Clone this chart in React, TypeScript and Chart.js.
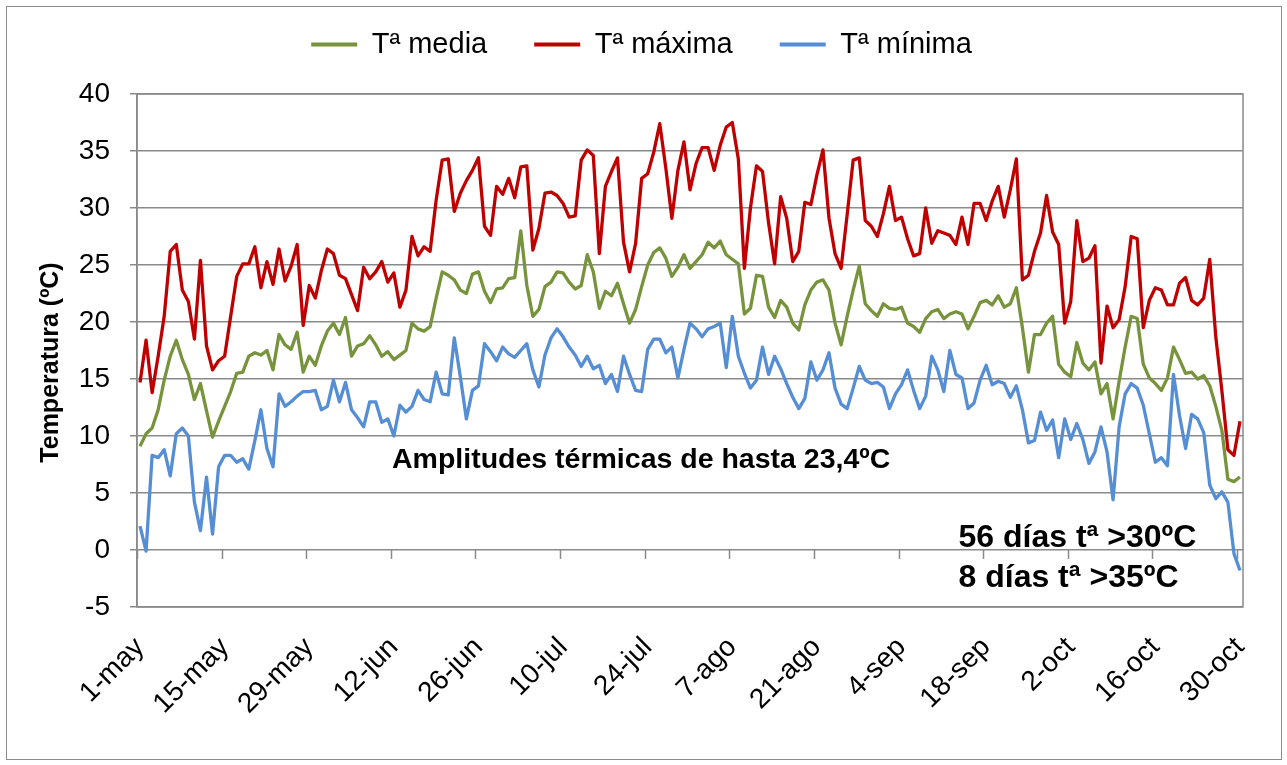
import { useEffect, useRef } from 'react';
import { Chart, registerables } from 'chart.js';

Chart.register(...registerables);

// ---- categories (daily, 1 May - 30 Oct) ----
const MONTHS = ['may', 'jun', 'jul', 'ago', 'sep', 'oct'];
const MONTH_DAYS = [31, 30, 31, 31, 30, 30];
const DATES: string[] = [];
MONTHS.forEach((m, k) => {
  for (let d = 1; d <= MONTH_DAYS[k]; d++) DATES.push(`${d}-${m}`);
});
const TICK_EVERY = 14;

// ---- series (ºC) ----
const T_MEDIA = [
  9.1, 10.2, 10.7, 12.3, 14.9, 17.0, 18.4, 16.7, 15.4, 13.2,
  14.6, 12.2, 9.9, 11.3, 12.6, 13.9, 15.5, 15.6, 17.0, 17.3,
  17.1, 17.5, 15.8, 18.9, 18.0, 17.6, 19.1, 15.6, 17.0, 16.2,
  17.9, 19.2, 19.9, 18.9, 20.4, 17.0, 17.9, 18.1, 18.8, 18.0,
  17.0, 17.4, 16.7, 17.1, 17.5, 19.9, 19.4, 19.2, 19.6, 22.1,
  24.4, 24.1, 23.7, 22.8, 22.5, 24.2, 24.4, 22.7, 21.7, 22.9,
  23.0, 23.8, 23.9, 28.0, 23.2, 20.5, 21.1, 23.1, 23.5, 24.4,
  24.3, 23.5, 22.9, 23.2, 25.9, 24.4, 21.2, 22.7, 22.3, 23.4,
  21.6, 19.9, 21.1, 23.1, 25.0, 26.1, 26.5, 25.6, 24.0, 24.8,
  25.9, 24.7, 25.3, 25.9, 27.0, 26.5, 27.1, 25.9, 25.5, 25.1,
  20.7, 21.2, 24.1, 24.0, 21.3, 20.4, 21.9, 21.3, 19.9, 19.3,
  21.5, 22.8, 23.5, 23.7, 22.8, 19.9, 18.0, 20.5, 22.8, 24.9,
  21.6, 21.0, 20.5, 21.6, 21.2, 21.1, 21.3, 19.9, 19.6, 19.1,
  20.3, 20.9, 21.1, 20.3, 20.7, 20.9, 20.7, 19.4, 20.5, 21.7,
  21.9, 21.5, 22.3, 21.3, 21.6, 23.0, 19.5, 15.6, 18.9, 18.9,
  19.9, 20.5, 16.3, 15.6, 15.2, 18.2, 16.4, 15.8, 16.5, 13.7,
  14.6, 11.5, 14.8, 17.8, 20.5, 20.3, 16.3, 15.1, 14.6, 14.0,
  15.1, 17.8, 16.7, 15.5, 15.6, 15.0, 15.3, 14.4, 12.6, 10.5,
  6.2, 6.0, 6.4,
];

const T_MAX = [
  14.7, 18.4, 13.8, 17.0, 20.5, 26.2, 26.8, 22.8, 21.8, 18.5,
  25.4, 17.9, 15.8, 16.6, 17.0, 20.5, 24.0, 25.1, 25.1, 26.6,
  23.0, 25.3, 23.3, 26.4, 23.6, 24.9, 26.8, 19.7, 23.2, 22.1,
  24.5, 26.4, 26.0, 24.1, 23.8, 22.4, 21.0, 24.8, 23.8, 24.4,
  25.3, 23.5, 24.3, 21.3, 22.8, 27.5, 25.8, 26.6, 26.2, 30.7,
  34.2, 34.3, 29.7, 31.3, 32.4, 33.3, 34.4, 28.4, 27.6, 31.9,
  31.2, 32.6, 30.9, 33.6, 33.7, 26.3, 28.2, 31.3, 31.4, 31.1,
  30.4, 29.2, 29.3, 34.2, 35.1, 34.6, 26.0, 31.9, 33.2, 34.4,
  27.0, 24.4, 26.9, 32.6, 33.0, 34.9, 37.4, 33.5, 29.1, 33.3,
  35.8, 31.6, 33.9, 35.3, 35.3, 33.3, 35.5, 37.1, 37.5, 34.3,
  24.7, 30.0, 33.7, 33.2, 28.7, 25.1, 31.0, 29.1, 25.3, 26.2,
  30.5, 30.3, 32.9, 35.1, 29.1, 26.0, 24.7, 29.4, 34.2, 34.4,
  28.9, 28.4, 27.5, 29.5, 31.9, 28.9, 29.2, 27.3, 25.8, 26.0,
  30.0, 26.9, 28.0, 27.8, 27.6, 26.8, 29.2, 26.8, 30.4, 30.4,
  28.9, 30.6, 31.9, 29.2, 31.6, 34.3, 23.7, 24.1, 26.2, 27.8,
  31.1, 27.9, 26.8, 19.9, 21.8, 28.9, 25.3, 25.6, 26.7, 16.4,
  21.4, 19.5, 20.2, 23.1, 27.5, 27.3, 19.5, 21.9, 23.0, 22.8,
  21.5, 21.5, 23.4, 23.9, 21.9, 21.5, 22.1, 25.5, 18.7, 14.0,
  8.8, 8.3, 11.3,
];

const T_MIN = [
  2.1, -0.1, 8.3, 8.1, 8.8, 6.5, 10.2, 10.7, 10.0, 4.2,
  1.7, 6.4, 1.4, 7.3, 8.3, 8.3, 7.7, 8.0, 7.1, 9.6,
  12.3, 8.9, 7.3, 13.7, 12.6, 13.0, 13.5, 13.9, 13.9, 14.0,
  12.3, 12.6, 14.9, 13.0, 14.7, 12.3, 11.6, 10.8, 13.0, 13.0,
  11.2, 11.5, 10.0, 12.7, 12.1, 12.6, 14.0, 13.2, 13.0, 15.6,
  13.7, 13.6, 18.6, 15.2, 11.5, 14.0, 14.4, 18.1, 17.4, 16.6,
  17.8, 17.2, 16.9, 17.5, 18.1, 15.8, 14.3, 17.1, 18.6, 19.4,
  18.7, 17.8, 17.1, 16.1, 17.0, 15.9, 16.2, 14.6, 15.4, 13.9,
  17.0, 15.4, 14.0, 13.9, 17.6, 18.5, 18.5, 17.3, 17.8, 15.1,
  17.6, 19.9, 19.4, 18.7, 19.4, 19.6, 19.9, 16.0, 20.5, 17.0,
  15.5, 14.2, 14.9, 17.8, 15.4, 17.0, 15.9, 14.6, 13.4, 12.4,
  13.3, 16.5, 14.9, 15.8, 17.3, 14.2, 12.8, 12.4, 14.2, 16.1,
  14.9, 14.6, 14.7, 14.3, 12.4, 13.7, 14.5, 15.8, 14.0, 12.4,
  13.5, 17.0, 15.8, 13.9, 17.5, 15.4, 15.1, 12.4, 12.9, 14.9,
  16.2, 14.5, 14.8, 14.6, 13.4, 14.4, 12.3, 9.4, 9.6, 12.1,
  10.5, 11.4, 8.1, 11.5, 9.7, 11.1, 9.7, 7.6, 8.6, 10.8,
  8.6, 4.4, 10.8, 13.7, 14.6, 14.2, 12.7, 10.2, 7.7, 8.1,
  7.4, 15.4, 11.8, 8.9, 11.9, 11.5, 10.3, 5.7, 4.5, 5.1,
  4.2, -0.3, -1.8,
];

const SERIES_LABELS = ['Tª media', 'Tª máxima', 'Tª mínima'];
const SERIES_COLORS = ['#77933C', '#C00000', '#558ED5'];

const Y_MIN = -5;
const Y_MAX = 40;
const Y_STEP = 5;
const Y_TITLE = 'Temperatura (ºC)';

const NOTE_AMPLITUD = 'Amplitudes térmicas de hasta 23,4ºC';
const NOTE_30 = '56 días tª >30ºC';
const NOTE_35 = '8 días tª >35ºC';

const FONT = '"Liberation Sans", Arial, Helvetica, sans-serif';
const GRID = '#8a8a8a';

const chartPlugin = {
  id: 'excelLook',
  beforeInit(chart: any) {
    const lg = chart.legend;
    if (lg) {
      const fit = lg.fit;
      lg.fit = function () {
        fit.call(this);
        this.height = 94;
      };
    }
  },
  afterLayout(chart: any) {
    const lg = chart.legend;
    if (lg) {
      const dy = -17 - lg.top;
      lg.top += dy;
      lg.bottom += dy;
      lg.left += 20;
      lg.right += 20;
    }
  },
  beforeDatasetsDraw(chart: any) {
    const { ctx, chartArea: a, scales } = chart;
    const xs = scales.x;
    const ys = scales.y;
    ctx.save();
    ctx.strokeStyle = GRID;
    ctx.lineWidth = 1.5;
    ctx.strokeRect(a.left, a.top, a.right - a.left, a.bottom - a.top);
    const y0 = ys.getPixelForValue(0);
    const half = (xs.getPixelForValue(1) - xs.getPixelForValue(0)) / 2;
    ctx.beginPath();
    for (let i = 0; i < DATES.length; i += TICK_EVERY) {
      const px = Math.round(xs.getPixelForValue(i) - half) + 0.5;
      ctx.moveTo(px, y0);
      ctx.lineTo(px, y0 + 9);
    }
    ctx.stroke();
    // axis title (rotated), placed as in the original
    ctx.fillStyle = '#000';
    ctx.font = `bold 25px ${FONT}`;
    ctx.textAlign = 'center';
    ctx.textBaseline = 'middle';
    ctx.translate(51, (a.top + a.bottom) / 2 + 12);
    ctx.rotate(-Math.PI / 2);
    ctx.fillText(Y_TITLE, 0, 0);
    ctx.restore();
  },
  afterDatasetsDraw(chart: any) {
    const { ctx, chartArea: a } = chart;
    ctx.save();
    ctx.fillStyle = '#000';
    ctx.textAlign = 'left';
    ctx.textBaseline = 'alphabetic';
    ctx.font = `bold 28.5px ${FONT}`;
    ctx.fillText(NOTE_AMPLITUD, a.left + 255, a.top + 374);
    ctx.font = `bold 32px ${FONT}`;
    ctx.fillText(NOTE_30, a.left + 821.5, a.top + 452.5);
    ctx.fillText(NOTE_35, a.left + 821.5, a.top + 493);
    ctx.restore();
  },
};

export default function App() {
  const ref = useRef<HTMLCanvasElement | null>(null);

  useEffect(() => {
    if (!ref.current) return;
    Chart.defaults.font.family = FONT;
    Chart.defaults.color = '#000';
    const seriesData = [T_MEDIA, T_MAX, T_MIN];
    const chart = new Chart(ref.current, {
      type: 'line',
      data: {
        labels: DATES,
        datasets: seriesData.map((d, i) => ({
          label: SERIES_LABELS[i],
          data: d,
          borderColor: SERIES_COLORS[i],
          backgroundColor: SERIES_COLORS[i],
          borderWidth: 3.3,
          pointRadius: 0,
          pointHoverRadius: 0,
          tension: 0,
          fill: false,
          borderJoinStyle: 'round' as const,
        })),
      },
      options: {
        responsive: false,
        animation: false,
        devicePixelRatio: 1,
        layout: { padding: { left: 0, right: 44, top: 0, bottom: 0 } },
        plugins: {
          tooltip: { enabled: false },
          legend: {
            position: 'top',
            labels: {
              boxWidth: 46,
              boxHeight: 4,
              padding: 47,
              color: '#000',
              font: { family: FONT, size: 29 },
              generateLabels: (c: any) =>
                c.data.datasets.map((ds: any, i: number) => ({
                  text: ds.label,
                  fillStyle: ds.borderColor,
                  strokeStyle: ds.borderColor,
                  lineWidth: 0,
                  hidden: false,
                  datasetIndex: i,
                })),
            },
          },
        },
        scales: {
          x: {
            type: 'category',
            offset: true,
            grid: { display: false },
            border: { display: false },
            afterFit: (s: any) => {
              s.height = 158;
            },
            ticks: {
              autoSkip: false,
              maxRotation: 45,
              minRotation: 45,
              padding: 16,
              color: '#000',
              font: { family: FONT, size: 28 },
              callback: (_v: any, idx: number) =>
                idx % TICK_EVERY === 0 ? DATES[idx] : null,
            },
          },
          y: {
            min: Y_MIN,
            max: Y_MAX,
            afterFit: (s: any) => {
              s.width = 137;
            },
            grid: {
              color: GRID,
              lineWidth: 1.5,
              tickLength: 7,
              drawTicks: true,
            },
            border: { display: true, color: GRID, width: 1.5 },
            ticks: {
              stepSize: Y_STEP,
              padding: 20,
              color: '#000',
              font: { family: FONT, size: 28 },
            },
            title: { display: false, text: Y_TITLE },
          },
        },
      },
      plugins: [chartPlugin],
    });
    return () => chart.destroy();
  }, []);

  return (
    <div
      style={{
        position: 'absolute',
        left: 0,
        top: 0,
        width: 1287,
        height: 765,
        background: '#fff',
        overflow: 'hidden',
      }}
    >
      <canvas ref={ref} width={1287} height={765} style={{ display: 'block', width: 1287, height: 765 }} />
      <div
        style={{
          position: 'absolute',
          left: 6,
          top: 6,
          width: 1274,
          height: 752,
          border: '1.5px solid #8c8c8c',
          pointerEvents: 'none',
        }}
      />
    </div>
  );
}
